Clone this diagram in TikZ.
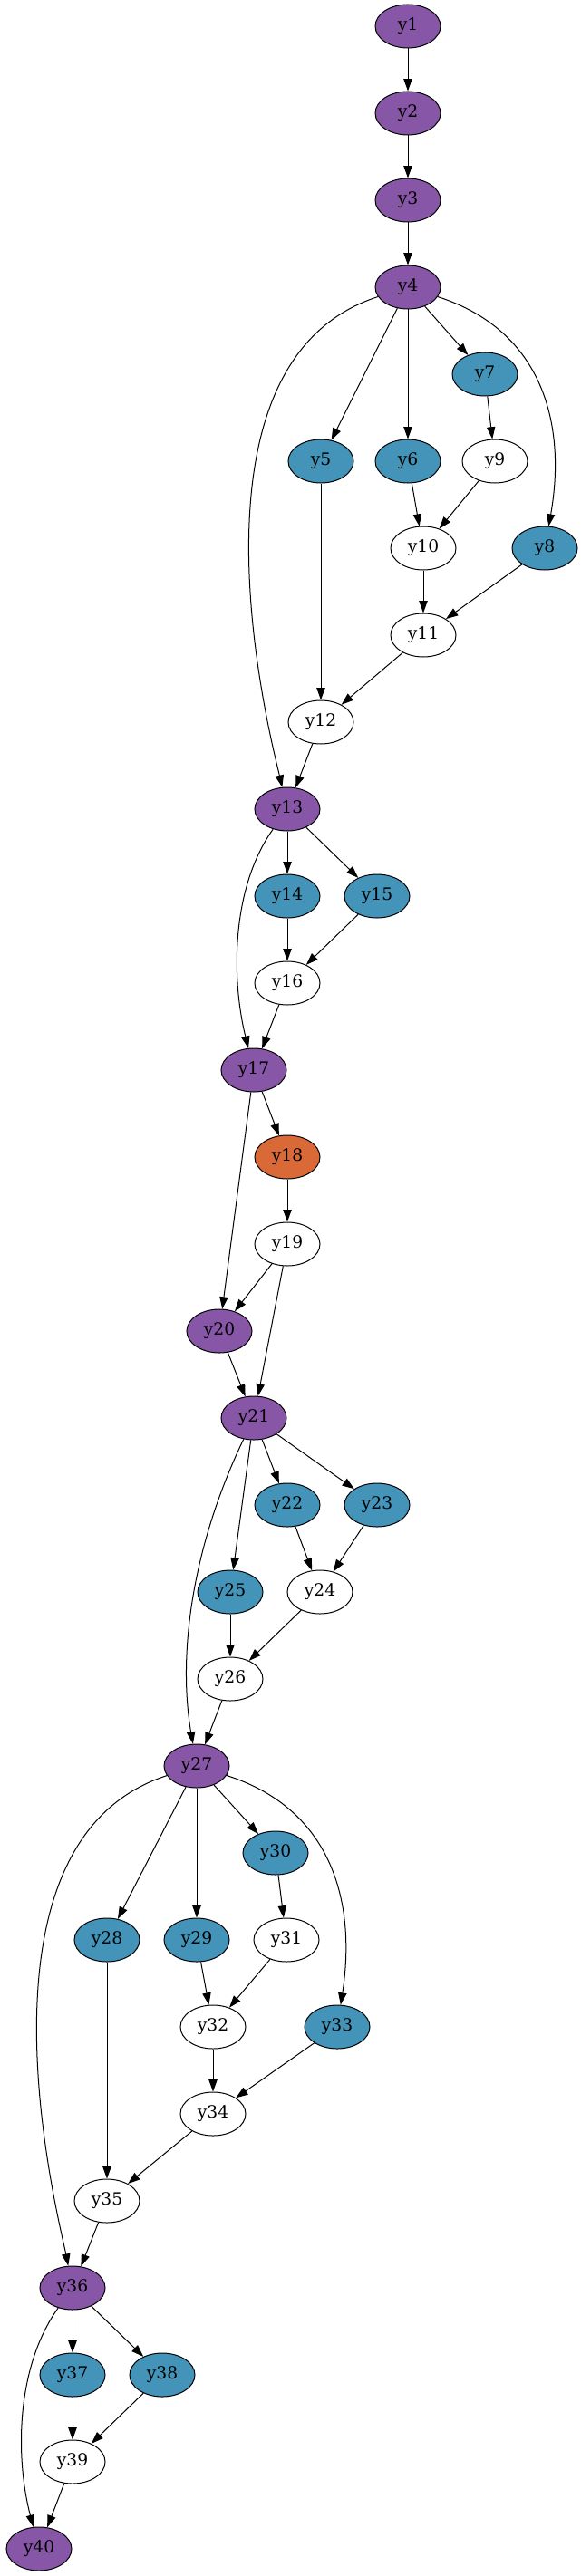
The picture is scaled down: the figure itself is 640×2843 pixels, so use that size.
\documentclass[tikz,border=0pt]{standalone}
\usepackage{fontspec}
\setmainfont{DejaVu Serif}
\usepackage{tikz}
\usetikzlibrary{arrows.meta}
\usetikzlibrary{shapes.geometric}
\usetikzlibrary{positioning}
\definecolor{purp}{HTML}{8856A7}
\definecolor{teal}{HTML}{4394B8}
\definecolor{orng}{HTML}{D96A37}
\tikzset{
	var/.style={ellipse, draw=black, line width=0.75pt, minimum width=54pt, minimum height=36pt, inner sep=0pt, font=\fontsize{14}{16}\selectfont},
	pvar/.style={var, fill=purp},
	tvar/.style={var, fill=teal},
	ovar/.style={var, fill=orng},
	wvar/.style={var, fill=white},
	edge/.style={line width=0.75pt, -{Triangle[length=10pt,width=7pt]}}
}

\begin{document}
\begin{tikzpicture}[x=0.75pt, y=-0.75pt]
					
					\useasboundingbox (0,0) rectangle (640,2843);
					
					\node[pvar] (y1) at (450,29) {y1};
					\node[pvar] (y2) at (450,125) {y2};
					\node[pvar] (y3) at (450,221) {y3};
					\node[pvar] (y4) at (450,317) {y4};
					\node[tvar] (y7) at (535,413) {y7};
					\node[tvar] (y5) at (354,509) {y5};
					\node[tvar] (y6) at (450,509) {y6};
					\node[wvar] (y9) at (546,509) {y9};
					\node[wvar] (y10) at (467,605) {y10};
					\node[tvar] (y8) at (601,605) {y8};
					\node[wvar] (y11) at (467,701) {y11};
					\node[wvar] (y12) at (354,797) {y12};
					\node[pvar] (y13) at (317,893) {y13};
					\node[tvar] (y14) at (317,989) {y14};
					\node[tvar] (y15) at (416,989) {y15};
					\node[wvar] (y16) at (317,1085) {y16};
					\node[pvar] (y17) at (280,1181) {y17};
					\node[ovar] (y18) at (317,1277) {y18};
					\node[wvar] (y19) at (317,1373) {y19};
					\node[pvar] (y20) at (242,1469) {y20};
					\node[pvar] (y21) at (280,1565) {y21};
					\node[tvar] (y22) at (317,1661) {y22};
					\node[tvar] (y23) at (416,1661) {y23};
					\node[tvar] (y25) at (254,1757) {y25};
					\node[wvar] (y24) at (353,1757) {y24};
					\node[wvar] (y26) at (254,1853) {y26};
					\node[pvar] (y27) at (217,1949) {y27};
					\node[tvar] (y30) at (304,2045) {y30};
					\node[tvar] (y28) at (118,2141) {y28};
					\node[tvar] (y29) at (217,2141) {y29};
					\node[wvar] (y31) at (316,2141) {y31};
					\node[wvar] (y32) at (235,2237) {y32};
					\node[tvar] (y33) at (372,2237) {y33};
					\node[wvar] (y34) at (235,2333) {y34};
					\node[wvar] (y35) at (118,2429) {y35};
					\node[pvar] (y36) at (80,2525) {y36};
					\node[tvar] (y37) at (80,2621) {y37};
					\node[tvar] (y38) at (179,2621) {y38};
					\node[wvar] (y39) at (80,2717) {y39};
					\node[pvar] (y40) at (43,2813) {y40};
					
					\draw[edge] (y1) -- (y2);
					\draw[edge] (y2) -- (y3);
					\draw[edge] (y3) -- (y4);
					\draw[edge] (y4) -- (y5);
					\draw[edge] (y4) -- (y6);
					\draw[edge] (y4) -- (y7);
					\draw[edge] (y4) .. controls (600,365) and (625,470) .. (y8);
					\draw[edge] (y4) .. controls (190,400) and (300,820) .. (y13);
					\draw[edge] (y7) -- (y9);
					\draw[edge] (y6) -- (y10);
					\draw[edge] (y9) -- (y10);
					\draw[edge] (y10) -- (y11);
					\draw[edge] (y8) -- (y11);
					\draw[edge] (y5) -- (y12);
					\draw[edge] (y11) -- (y12);
					\draw[edge] (y12) -- (y13);
					
					\draw[edge] (y13) -- (y14);
					\draw[edge] (y13) -- (y15);
					\draw[edge] (y13) .. controls (255,980) and (255,1080) .. (y17);
					\draw[edge] (y14) -- (y16);
					\draw[edge] (y15) -- (y16);
					\draw[edge] (y16) -- (y17);
					\draw[edge] (y17) -- (y18);
					\draw[edge] (y17) -- (y20);
					\draw[edge] (y18) -- (y19);
					\draw[edge] (y19) -- (y20);
					\draw[edge] (y19) -- (y21);
					\draw[edge] (y20) -- (y21);
					
					\draw[edge] (y21) -- (y22);
					\draw[edge] (y21) -- (y23);
					\draw[edge] (y21) -- (y25);
					\draw[edge] (y21) .. controls (215,1700) and (195,1820) .. (y27);
					\draw[edge] (y22) -- (y24);
					\draw[edge] (y23) -- (y24);
					\draw[edge] (y25) -- (y26);
					\draw[edge] (y24) -- (y26);
					\draw[edge] (y26) -- (y27);
					
					\draw[edge] (y27) -- (y28);
					\draw[edge] (y27) -- (y29);
					\draw[edge] (y27) -- (y30);
					\draw[edge] (y27) .. controls (368,1997) and (393,2102) .. (y33);
					\draw[edge] (y27) .. controls (-44,2033) and (66,2453) .. (y36);
					\draw[edge] (y30) -- (y31);
					\draw[edge] (y29) -- (y32);
					\draw[edge] (y31) -- (y32);
					\draw[edge] (y32) -- (y34);
					\draw[edge] (y33) -- (y34);
					\draw[edge] (y28) -- (y35);
					\draw[edge] (y34) -- (y35);
					\draw[edge] (y35) -- (y36);
					
					\draw[edge] (y36) -- (y37);
					\draw[edge] (y36) -- (y38);
					\draw[edge] (y36) .. controls (17,2613) and (17,2713) .. (y40);
					\draw[edge] (y37) -- (y39);
					\draw[edge] (y38) -- (y39);
					\draw[edge] (y39) -- (y40);
					
				\end{tikzpicture}
\end{document}
